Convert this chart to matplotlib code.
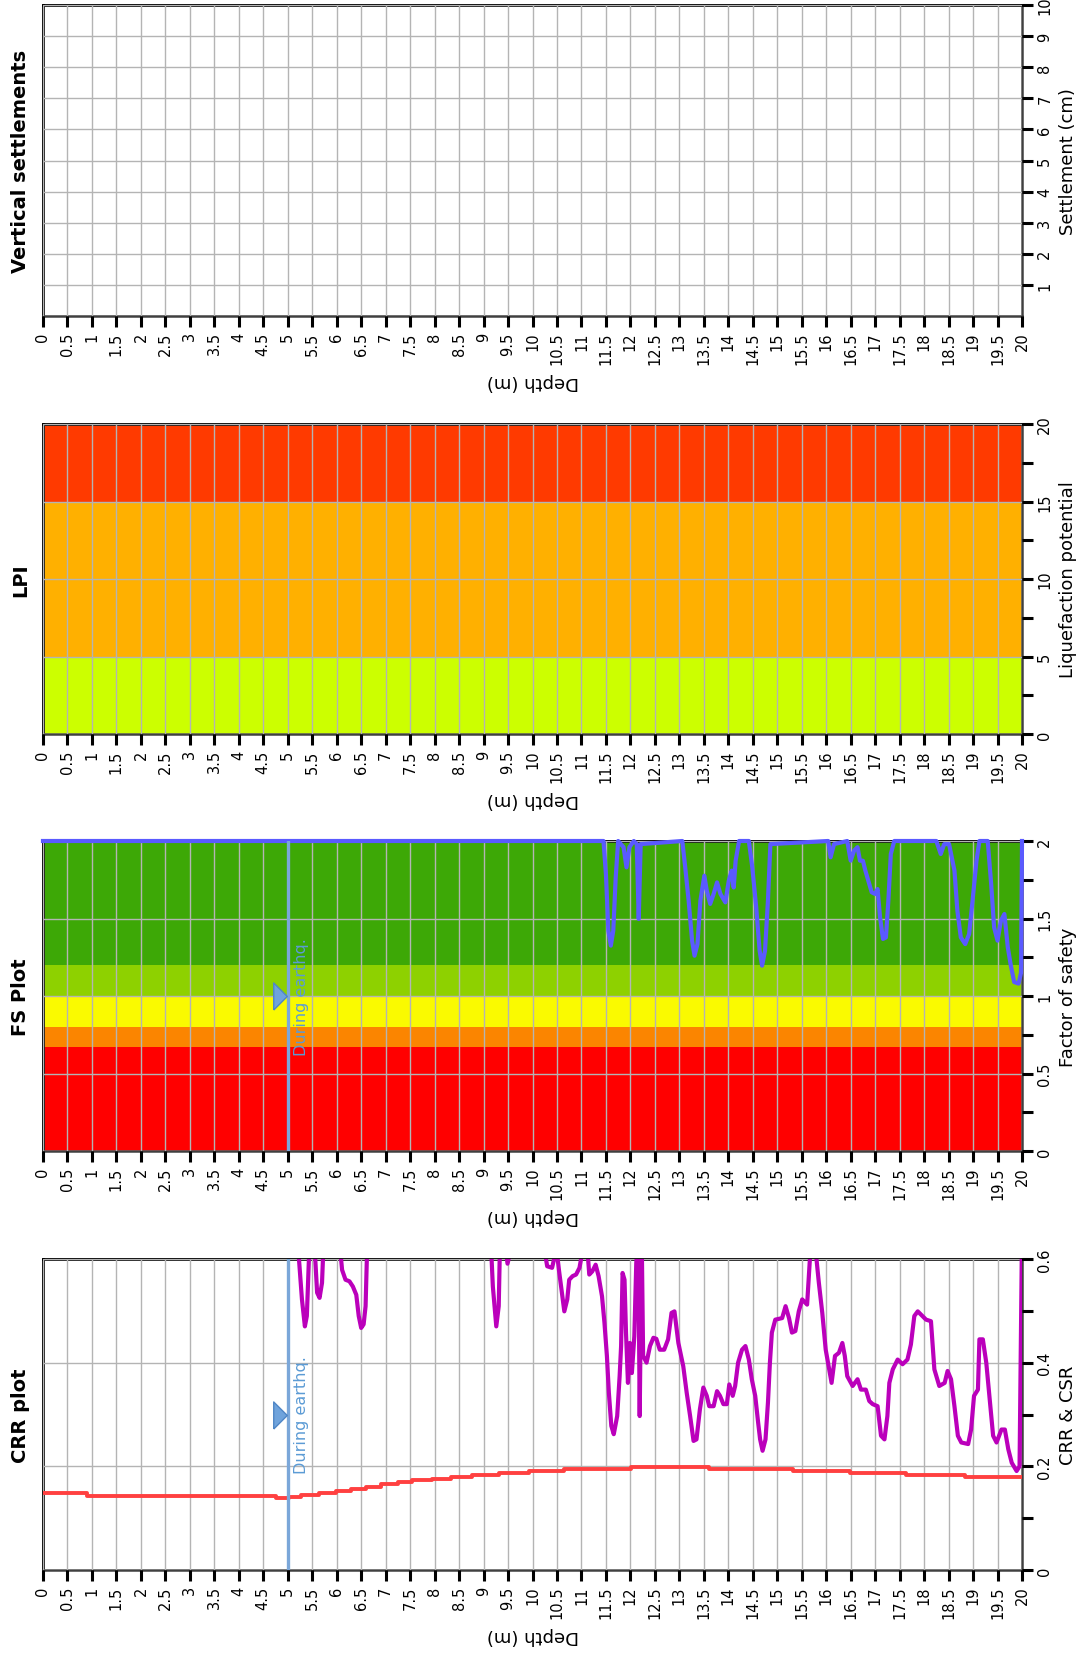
import matplotlib
matplotlib.use("Agg")
import matplotlib.pyplot as plt
import matplotlib.transforms as mtransforms
from matplotlib.ticker import FuncFormatter

plt.rcParams['font.family'] = ['DejaVu Sans']

# depth axis (m)
depth_ticks = [i * 0.5 for i in range(41)]

# CRR vs depth (values above 0.6 run off the top of the plot)
crr_depth = [0, 5.19, 5.29, 5.35, 5.39, 5.44, 5.55, 5.60, 5.65, 5.70, 5.74,
             6.04, 6.11, 6.18, 6.26, 6.33, 6.40, 6.45, 6.50, 6.55, 6.59, 6.63,
             9.14, 9.19, 9.26, 9.31, 9.34, 9.45, 9.49, 9.56,
             10.24, 10.30, 10.40, 10.49, 10.54, 10.60, 10.65, 10.71, 10.75, 10.82,
             10.89, 10.96, 11.03, 11.12, 11.16, 11.22, 11.29, 11.35, 11.42, 11.47,
             11.52, 11.56, 11.61, 11.66, 11.73, 11.78, 11.81, 11.84, 11.88, 11.91,
             11.95, 11.99, 12.03, 12.08, 12.12, 12.16, 12.19, 12.23, 12.26, 12.33,
             12.40, 12.47, 12.53, 12.60, 12.69, 12.77, 12.84, 12.90, 12.98, 13.08,
             13.15, 13.22, 13.29, 13.35, 13.42, 13.49, 13.56, 13.61, 13.70, 13.77,
             13.83, 13.90, 13.97, 14.02, 14.09, 14.14, 14.20, 14.28, 14.35, 14.42,
             14.48, 14.55, 14.61, 14.65, 14.70, 14.76, 14.81, 14.85, 14.89, 14.96,
             15.10, 15.17, 15.24, 15.30, 15.37, 15.44, 15.51, 15.61, 15.68, 15.78,
             15.85, 15.92, 15.99, 16.06, 16.11, 16.18, 16.26, 16.33, 16.38, 16.43,
             16.54, 16.64, 16.71, 16.81, 16.88, 16.95, 17.05, 17.12, 17.19, 17.25,
             17.29, 17.36, 17.46, 17.56, 17.66, 17.73, 17.80, 17.87, 18.04, 18.14,
             18.21, 18.31, 18.42, 18.48, 18.55, 18.62, 18.69, 18.76, 18.90, 18.96,
             19.02, 19.10, 19.13, 19.20, 19.27, 19.34, 19.41, 19.48, 19.58, 19.65,
             19.72, 19.79, 19.89, 19.95, 20.0]
crr_value = [0.65, 0.65, 0.522, 0.470, 0.490, 0.62, 0.62, 0.535, 0.525, 0.554, 0.65,
             0.65, 0.579, 0.560, 0.557, 0.547, 0.531, 0.490, 0.467, 0.474, 0.509, 0.65,
             0.65, 0.547, 0.470, 0.509, 0.65, 0.62, 0.591, 0.62,
             0.62, 0.586, 0.583, 0.62, 0.579, 0.535, 0.499, 0.522, 0.560, 0.567,
             0.570, 0.583, 0.62, 0.62, 0.570, 0.576, 0.589, 0.567, 0.528, 0.477,
             0.413, 0.342, 0.278, 0.262, 0.297, 0.374, 0.432, 0.573, 0.560, 0.458,
             0.361, 0.438, 0.380, 0.451, 0.592, 0.65, 0.297, 0.65, 0.413, 0.400,
             0.432, 0.448, 0.446, 0.425, 0.425, 0.445, 0.496, 0.499, 0.438, 0.393,
             0.342, 0.297, 0.249, 0.252, 0.310, 0.352, 0.336, 0.316, 0.316, 0.345,
             0.336, 0.320, 0.320, 0.358, 0.336, 0.355, 0.400, 0.425, 0.432, 0.406,
             0.368, 0.336, 0.284, 0.252, 0.230, 0.252, 0.323, 0.400, 0.458, 0.483,
             0.486, 0.509, 0.486, 0.458, 0.461, 0.499, 0.522, 0.512, 0.62, 0.62,
             0.554, 0.496, 0.425, 0.387, 0.361, 0.413, 0.419, 0.438, 0.413, 0.374,
             0.355, 0.368, 0.348, 0.348, 0.326, 0.320, 0.316, 0.259, 0.252, 0.297,
             0.361, 0.387, 0.406, 0.397, 0.406, 0.435, 0.490, 0.499, 0.483, 0.480,
             0.387, 0.355, 0.361, 0.384, 0.368, 0.316, 0.259, 0.246, 0.243, 0.271,
             0.336, 0.348, 0.445, 0.445, 0.400, 0.329, 0.259, 0.246, 0.271, 0.271,
             0.233, 0.207, 0.191, 0.200, 0.65]

# CSR, stepped by layer
csr_depth = [0, 0.9, 4.75, 5.02, 5.27, 5.63, 5.99, 6.29, 6.59, 6.91, 7.25, 7.54,
             7.95, 8.34, 8.77, 9.31, 9.92, 10.65, 12.01, 13.61, 15.32, 16.48,
             17.64, 18.84, 20.0]
csr_value = [0.148, 0.142, 0.138, 0.140, 0.144, 0.148, 0.153, 0.157, 0.161, 0.165,
             0.169, 0.173, 0.176, 0.180, 0.184, 0.187, 0.191, 0.194, 0.198, 0.194,
             0.191, 0.188, 0.183, 0.179, 0.179]

# factor of safety (capped at 2)
fs_depth = [0, 11.45, 11.50, 11.55, 11.60, 11.65, 11.70, 11.75, 11.86, 11.92,
            11.98, 12.07, 12.13, 12.17, 12.21, 13.06, 13.12, 13.19, 13.26, 13.31,
            13.37, 13.43, 13.51, 13.56, 13.63, 13.70, 13.77, 13.84, 13.94, 14.01,
            14.07, 14.11, 14.15, 14.22, 14.42, 14.49, 14.57, 14.64, 14.69, 14.75,
            14.81, 14.86, 16.04, 16.09, 16.16, 16.43, 16.50, 16.57, 16.64, 16.69,
            16.75, 16.80, 16.86, 16.93, 17.00, 17.05, 17.10, 17.16, 17.22, 17.27,
            17.32, 17.39, 18.25, 18.34, 18.41, 18.51, 18.62, 18.68, 18.75, 18.84,
            18.92, 18.99, 19.07, 19.13, 19.30, 19.37, 19.43, 19.50, 19.57, 19.64,
            19.71, 19.77, 19.84, 19.93, 19.98, 20.0]
fs_value = [2.0, 2.0, 1.787, 1.421, 1.325, 1.421, 1.766, 2.0, 1.96, 1.83,
            1.96, 2.0, 1.98, 1.497, 1.98, 2.0, 1.83, 1.615, 1.357, 1.26,
            1.335, 1.615, 1.776, 1.68, 1.594, 1.658, 1.733, 1.658, 1.604, 1.744,
            1.809, 1.70, 1.873, 2.0, 2.0, 1.83, 1.572, 1.292, 1.196, 1.292,
            1.615, 1.98, 2.0, 1.895, 1.98, 2.0, 1.873, 1.938, 1.96, 1.873,
            1.873, 1.809, 1.744, 1.669, 1.658, 1.69, 1.508, 1.368, 1.378, 1.615,
            1.916, 2.0, 2.0, 1.916, 1.98, 1.98, 1.809, 1.55, 1.378, 1.335,
            1.40, 1.615, 1.873, 2.0, 2.0, 1.723, 1.443, 1.357, 1.486, 1.529,
            1.314, 1.20, 1.09, 1.08, 1.15, 2.0]

fs_limits = [0, 0.67, 0.8, 1.0, 1.2, 2.0]
fs_colors = ['#FF0000', '#FB8500', '#FAFA00', '#8ED100', '#3DA806']

lpi_limits = [0, 5, 15, 20]
lpi_colors = ['#CCFF00', '#FFB000', '#FF3A00']

quake_depth = 5.0

W, H = 1083, 1658
fig = plt.figure(figsize=(W / 100, H / 100), dpi=100)


def make_panel(top_px, bottom_px, title, ylabel, ymax, major, minor, label_ticks):
    ax = fig.add_axes([43 / W, 1 - bottom_px / H, 979 / W, (bottom_px - top_px) / H])
    ax.set_xlim(0, 20)
    ax.set_ylim(0, ymax)
    ax.set_xticks(depth_ticks)
    ax.xaxis.set_major_formatter(FuncFormatter(lambda v, p: '%g' % v))
    ax.yaxis.tick_right()
    ax.yaxis.set_label_position('right')
    ax.set_yticks(major)
    ax.set_yticks(minor, minor=True)
    ax.set_yticklabels(label_ticks)
    ax.tick_params(axis='both', which='major', direction='out', length=8, width=2.2,
                   color='black', labelsize=10.5, pad=3)
    ax.tick_params(axis='y', which='minor', direction='out', length=8, width=2.2,
                   color='black')
    for lab in ax.get_xticklabels():
        lab.set_rotation(90)
    for lab in ax.get_yticklabels():
        lab.set_rotation(90)
        lab.set_verticalalignment('center')
    ax.set_axisbelow(False)
    ax.grid(True, which='major', color='#B4B4B4', linewidth=1)
    for side in ('left', 'top'):
        ax.spines[side].set_color('black')
        ax.spines[side].set_linewidth(2)
    for side in ('bottom', 'right'):
        ax.spines[side].set_color('#404040')
        ax.spines[side].set_linewidth(1.8)
    ax.set_ylabel(ylabel, fontsize=13, rotation=90, labelpad=5)
    ax.set_xlabel('Depth (m)', fontsize=13, rotation=180, va='center')
    ax.xaxis.set_label_coords(0.5, -0.21)
    fig.text(21 / W, 1 - (top_px + bottom_px) / 2 / H, title, rotation=90,
             ha='center', va='center', fontsize=14, fontweight='bold')
    return ax


def quake_marker(ax, mid):
    ax.axvline(quake_depth, color='#7BA7D9', linewidth=2.4, zorder=4)
    tri = [(-0.5, -1), (0.5, 0), (-0.5, 1), (-0.5, -1)]
    ax.plot([quake_depth], [mid], marker=tri, markersize=19.5, color='#6FA3DC',
            markeredgecolor='#4F86C6', markeredgewidth=1, zorder=5,
            transform=mtransforms.offset_copy(ax.transData, fig=fig, x=-8, y=0, units='dots'))
    ax.text(quake_depth, mid, 'During earthq.', rotation=90, ha='left', va='center',
            color='#5B9BD5', fontsize=11.5, zorder=5,
            transform=mtransforms.offset_copy(ax.transData, fig=fig, x=6, y=0, units='dots'))


# vertical settlements
ax1 = make_panel(6, 317, 'Vertical settlements', 'Settlement (cm)', 10,
                 list(range(1, 11)), [], [str(v) for v in range(1, 11)])

# LPI
ax2 = make_panel(425, 735, 'LPI', 'Liquefaction potential', 20,
                 [0, 5, 10, 15, 20], [2.5, 7.5, 12.5, 17.5], ['0', '5', '10', '15', '20'])
for i, c in enumerate(lpi_colors):
    ax2.axhspan(lpi_limits[i], lpi_limits[i + 1], color=c, zorder=1, linewidth=0)

# FS plot
ax3 = make_panel(842, 1152, 'FS Plot', 'Factor of safety', 2,
                 [0, 0.5, 1, 1.5, 2], [0.25, 0.75, 1.25, 1.75], ['0', '0.5', '1', '1.5', '2'])
for i, c in enumerate(fs_colors):
    ax3.axhspan(fs_limits[i], fs_limits[i + 1], color=c, zorder=1, linewidth=0)
ax3.plot(fs_depth, fs_value, color='#5A5AFF', linewidth=3.0, zorder=3, clip_on=False,
         solid_joinstyle='round')
quake_marker(ax3, 1.0)

# CRR plot
ax4 = make_panel(1260, 1571, 'CRR plot', 'CRR & CSR', 0.6,
                 [0, 0.2, 0.4, 0.6], [0.1, 0.3, 0.5], ['0', '0.2', '0.4', '0.6'])
ax4.step(csr_depth, csr_value, where='post', color='#FF4040', linewidth=2.8, zorder=3)
ax4.plot(crr_depth, crr_value, color='#BB00BB', linewidth=3.0, zorder=3,
         solid_joinstyle='round')
quake_marker(ax4, 0.3)

fig.savefig('out.png', dpi=100)
